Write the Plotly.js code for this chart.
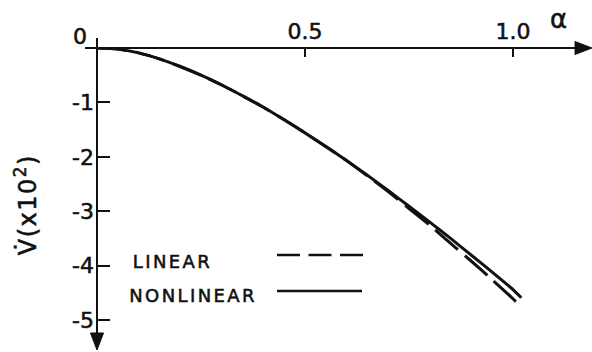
<!DOCTYPE html>
<html>
<head>
<meta charset="utf-8">
<script src="https://cdn.plot.ly/plotly-3.0.1.min.js"></script>
<style>
  html, body { margin: 0; padding: 0; background: #fff; }
  #chart { width: 592px; height: 352px; }
  /* heavier stroke for the hand-lettered look */
  #chart svg text { stroke: #111; stroke-width: 0.55px; }
  /* wide lettering for the key labels and the ordinate title */
  g.annotation[data-index="0"] text { letter-spacing: 1.5px; }
  g.annotation[data-index="3"] text,
  g.annotation[data-index="4"] text { letter-spacing: 2.4px; }
</style>
</head>
<body>
<div id="chart"></div>
<script>
// Dimensionless parameter alpha and the rate V-dot (in units of 10^-2)
const alphaNonlinear = [0, 0.05, 0.10, 0.15, 0.20, 0.25, 0.30, 0.35, 0.40, 0.45, 0.50,
                        0.55, 0.60, 0.65, 0.70, 0.75, 0.80, 0.85, 0.90, 0.95, 1.00, 1.02];
const vNonlinear     = [0, -0.02, -0.09, -0.20, -0.34, -0.50, -0.68, -0.88, -1.09, -1.32, -1.56,
                        -1.81, -2.07, -2.34, -2.62, -2.91, -3.20, -3.50, -3.81, -4.12, -4.44, -4.59];

const alphaLinear = [0, 0.05, 0.10, 0.15, 0.20, 0.25, 0.30, 0.35, 0.40, 0.45, 0.50,
                     0.55, 0.60, 0.65, 0.70, 0.75, 0.80, 0.85, 0.90, 0.95, 1.00, 1.013];
const vLinear     = [0, -0.02, -0.09, -0.20, -0.34, -0.50, -0.68, -0.88, -1.09, -1.32, -1.56,
                     -1.81, -2.07, -2.35, -2.64, -2.95, -3.26, -3.59, -3.92, -4.26, -4.61, -4.71];

const xTickVals = [0.5, 1.0];
const xTickText = ['0.5', '1.0'];
const yTickVals = [-1, -2, -3, -4, -5];
const yTickText = ['-1', '-2', '-3', '-4', '-5'];

const seriesNames = ['LINEAR', 'NONLINEAR'];
const xAxisLabel = 'α';
const yAxisLabel = 'V̇(x10<sup>2</sup>)';
const originLabel = '0';

// plot-area geometry (pixels)
const L = 97, T = 48, W = 495, H = 292;
const PX_PER_X = 416, PX_PER_Y = 54.4;
const px = x => (x - L) / W;        // page x -> paper x
const py = y => (T + H - y) / H;    // page y -> paper y

const ink = '#111';
const fontFam = '"DejaVu Sans", "Liberation Sans", sans-serif';

const traces = [
  { x: alphaLinear, y: vLinear, name: seriesNames[0], mode: 'lines',
    line: { color: ink, width: 3, dash: '30px,9px', shape: 'spline', smoothing: 0.6 } },
  { x: alphaNonlinear, y: vNonlinear, name: seriesNames[1], mode: 'lines',
    line: { color: ink, width: 3, shape: 'spline', smoothing: 0.6 } }
];

const shapes = [
  // abscissa with arrow
  { type: 'line', xref: 'paper', yref: 'paper', x0: px(85), x1: px(578), y0: 1, y1: 1,
    line: { color: ink, width: 2 } },
  { type: 'path', xref: 'paper', yref: 'paper',
    path: `M ${px(575)},${py(41.5)} L ${px(592)},${py(48)} L ${px(575)},${py(54.5)} Z`,
    fillcolor: ink, line: { color: ink, width: 1 } },
  // ordinate with arrow
  { type: 'line', xref: 'paper', yref: 'paper', x0: 0, x1: 0, y0: py(38), y1: py(336),
    line: { color: ink, width: 2 } },
  { type: 'path', xref: 'paper', yref: 'paper',
    path: `M ${px(90.5)},${py(333)} L ${px(97)},${py(350)} L ${px(103.5)},${py(333)} Z`,
    fillcolor: ink, line: { color: ink, width: 1 } },
  // key samples
  { type: 'line', xref: 'paper', yref: 'paper', x0: px(277), x1: px(363), y0: py(255), y1: py(255),
    line: { color: ink, width: 2.5, dash: '23px,8.5px' } },
  { type: 'line', xref: 'paper', yref: 'paper', x0: px(277), x1: px(362), y0: py(291), y1: py(291),
    line: { color: ink, width: 2.5 } }
];

const note = (text, x, y, size, extra) => Object.assign({
  text: text, xref: 'paper', yref: 'paper', x: px(x), y: py(y),
  xanchor: 'center', yanchor: 'middle', showarrow: false,
  font: { size: size, family: fontFam, color: ink }
}, extra || {});

const annotations = [
  note(yAxisLabel, 26, 205, 24, { textangle: -90 }),
  note(originLabel, 80, 36, 22),
  note(xAxisLabel, 558, 19, 26),
  note(seriesNames[0], 138, 261.5, 18, { xanchor: 'left' }),
  note(seriesNames[1], 138, 295, 18, { xanchor: 'left' })
];

const layout = {
  width: 592, height: 352,
  margin: { l: L, r: 592 - L - W, t: T, b: 352 - T - H, pad: 0 },
  paper_bgcolor: '#fff', plot_bgcolor: '#fff',
  showlegend: false,
  font: { family: fontFam, color: ink, size: 20 },
  xaxis: {
    range: [0, W / PX_PER_X], side: 'top',
    tickmode: 'array', tickvals: xTickVals, ticktext: xTickText,
    ticks: 'inside', ticklen: 9, tickwidth: 2, tickcolor: ink,
    ticklabelstandoff: 4,
    tickfont: { size: 22, family: fontFam, color: ink },
    showgrid: false, zeroline: false, showline: false, fixedrange: true
  },
  yaxis: {
    range: [-H / PX_PER_Y, 0],
    tickmode: 'array', tickvals: yTickVals, ticktext: yTickText,
    ticks: 'inside', ticklen: 13, tickwidth: 2, tickcolor: ink,
    ticklabelstandoff: 2,
    tickfont: { size: 22, family: fontFam, color: ink },
    showgrid: false, zeroline: false, showline: false, fixedrange: true
  },
  shapes: shapes,
  annotations: annotations
};

Plotly.newPlot('chart', traces, layout, { staticPlot: true, displayModeBar: false });
</script>
</body>
</html>
